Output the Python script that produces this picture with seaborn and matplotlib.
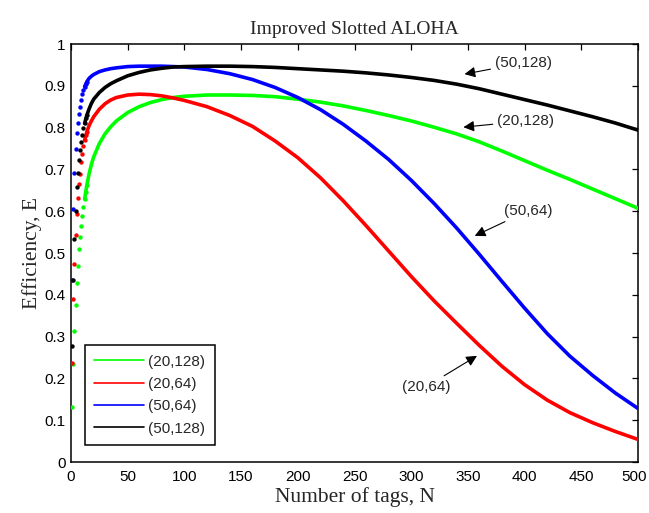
import matplotlib
matplotlib.use("Agg")
import matplotlib.pyplot as plt
from matplotlib.lines import Line2D
from matplotlib.transforms import ScaledTranslation
import pandas as pd
import seaborn as sns

# ---------------- data ----------------
series_labels = ["(20,128)", "(20,64)", "(50,64)", "(50,128)"]
series_colors = ["#00ff00", "#ff0000", "#0000ff", "#000000"]

# first tags: individual dots
N_early = [1, 2, 3, 4, 5, 6, 7, 8, 9, 10, 11, 12, 13, 14]
green_early = [0.132, 0.234, 0.313, 0.376, 0.429, 0.470, 0.510, 0.538, 0.565, 0.589, 0.611, 0.629, 0.645, 0.663]
red_early = [0.238, 0.390, 0.474, 0.543, 0.593, 0.632, 0.664, 0.690, 0.717, 0.738, 0.756, 0.770, 0.782, 0.790]
blue_early = [0.435, 0.605, 0.691, 0.748, 0.786, 0.810, 0.833, 0.850, 0.865, 0.880, 0.890, 0.898, 0.905, 0.910]
black_early = [0.277, 0.435, 0.533, 0.601, 0.657, 0.691, 0.722, 0.746, 0.766, 0.782, 0.798, 0.810, 0.822, 0.830]

# rest of the curves (dense dots that look like a line)
N_line = [12, 14, 16, 18, 20, 25, 30, 35, 40, 50, 60, 70, 80, 90, 100,
          120, 140, 160, 180, 200, 220, 240, 260, 280, 300, 320, 340, 360,
          380, 400, 420, 440, 460, 480, 500]
green_line = [0.629, 0.663, 0.690, 0.712, 0.730, 0.762, 0.785, 0.802, 0.816, 0.836, 0.850, 0.860, 0.867,
              0.872, 0.875, 0.878, 0.878, 0.877, 0.874, 0.868, 0.861, 0.852, 0.841, 0.829, 0.816, 0.801,
              0.785, 0.766, 0.744, 0.721, 0.698, 0.676, 0.653, 0.630, 0.607]
red_line = [0.770, 0.790, 0.805, 0.816, 0.826, 0.844, 0.857, 0.866, 0.872, 0.878, 0.880, 0.879, 0.876,
            0.871, 0.865, 0.850, 0.829, 0.803, 0.768, 0.728, 0.680, 0.625, 0.566, 0.505, 0.444, 0.386,
            0.332, 0.279, 0.229, 0.185, 0.148, 0.118, 0.094, 0.073, 0.054]
blue_line = [0.898, 0.910, 0.918, 0.923, 0.927, 0.934, 0.938, 0.941, 0.943, 0.946, 0.947, 0.947, 0.947,
             0.946, 0.945, 0.939, 0.929, 0.915, 0.896, 0.872, 0.843, 0.808, 0.768, 0.724, 0.674, 0.619,
             0.560, 0.497, 0.432, 0.368, 0.307, 0.253, 0.207, 0.165, 0.128]
black_line = [0.810, 0.830, 0.845, 0.858, 0.868, 0.884, 0.896, 0.905, 0.912, 0.924, 0.932, 0.938, 0.942,
              0.945, 0.946, 0.947, 0.947, 0.946, 0.944, 0.941, 0.938, 0.935, 0.931, 0.926, 0.920, 0.913,
              0.904, 0.893, 0.880, 0.867, 0.854, 0.840, 0.826, 0.811, 0.794]

x_ticks = [0, 50, 100, 150, 200, 250, 300, 350, 400, 450, 500]
y_ticks = [0, 0.1, 0.2, 0.3, 0.4, 0.5, 0.6, 0.7, 0.8, 0.9, 1.0]
y_tick_labels = ["0", "0.1", "0.2", "0.3", "0.4", "0.5", "0.6", "0.7", "0.8", "0.9", "1"]

# annotations: label, text position (N, E), arrow head (N, E), horizontal alignment
annotations = [
    ("(50,128)", (374, 0.955), (347, 0.928), "left"),
    ("(20,128)", (376, 0.816), (346, 0.801), "left"),
    ("(50,64)", (403, 0.601), (356, 0.541), "center"),
    ("(20,64)", (313, 0.180), (358, 0.254), "center"),
]

early = [green_early, red_early, blue_early, black_early]
lines = [green_line, red_line, blue_line, black_line]

# ---------------- plot ----------------
sns.set_style("white")
plt.rcParams["font.family"] = ["Liberation Sans", "DejaVu Sans"]
serif = ["Liberation Serif", "DejaVu Serif"]

fig = plt.figure(figsize=(6.49, 5.13), dpi=100)
ax = fig.add_axes([0.1094, 0.0994, 0.8737, 0.8148])

for lab, col, ev, lv in zip(series_labels, series_colors, early, lines):
    de = pd.DataFrame({"N": N_early, "E": ev})
    dl = pd.DataFrame({"N": N_line, "E": lv})
    sns.scatterplot(data=de, x="N", y="E", color=col, s=10, linewidth=0, ax=ax, legend=False, zorder=3)
    sns.lineplot(data=dl, x="N", y="E", color=col, lw=2.6, ax=ax, legend=False, zorder=3,
                 solid_joinstyle="round", solid_capstyle="round")

ax.set_xlim(0, 500)
ax.set_ylim(0, 1)
ax.set_xticks(x_ticks)
ax.set_yticks(y_ticks)
ax.set_yticklabels(y_tick_labels)
ax.tick_params(direction="in", length=4, width=0.9, top=True, right=True, labelsize=11, colors="k",
               pad=4)
ax.tick_params(axis="x", pad=6)
for sp in ax.spines.values():
    sp.set_linewidth(1.1)
    sp.set_color("k")

# keep the last x tick label inside the figure
last_lbl = ax.get_xticklabels()[-1]
last_lbl.set_transform(last_lbl.get_transform() + ScaledTranslation(-4 / 100, 0, fig.dpi_scale_trans))

ax.set_title("Improved Slotted ALOHA", fontfamily=serif, fontsize=14, pad=7)
ax.set_xlabel("Number of tags, N", fontfamily=serif, fontsize=15.5, labelpad=2)
ax.set_ylabel("Efficiency, E", fontfamily=serif, fontsize=15.5, labelpad=2)

for text, xyt, xyh, ha in annotations:
    ax.annotate(text, xy=xyh, xytext=xyt, ha=ha, va="center", fontsize=11,
                arrowprops=dict(arrowstyle="-|>", color="k", lw=0.8, mutation_scale=16,
                                shrinkA=1, shrinkB=0))

handles = [Line2D([0], [0], color=c, lw=1.2) for c in series_colors]
leg = ax.legend(handles, series_labels, loc="lower left", bbox_to_anchor=(0.0247, 0.0407),
                borderaxespad=0, handlelength=3.25, handletextpad=0.3, labelspacing=0.55,
                fontsize=11, fancybox=False, framealpha=1, edgecolor="k", borderpad=0.6)
leg.get_frame().set_linewidth(1.1)

fig.savefig("out.png", dpi=100)
